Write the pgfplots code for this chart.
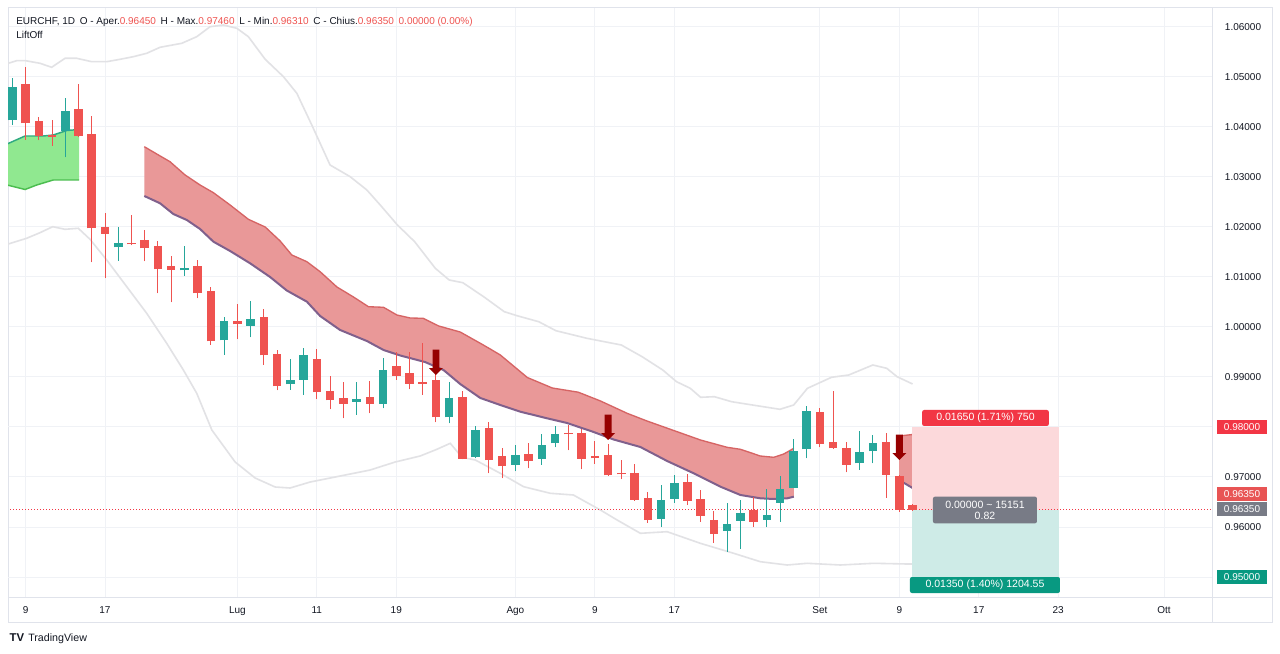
\documentclass[border=0pt]{standalone}
\usepackage{fontspec}
\setmainfont{Liberation Sans}
\usepackage{pgfplots}
\pgfplotsset{compat=1.18}
\usepackage{pgfplotstable}

\definecolor{upc}{RGB}{38,166,154}
\definecolor{dnc}{RGB}{239,83,80}
\definecolor{txt}{RGB}{19,23,34}
\definecolor{gridc}{RGB}{240,242,246}
\definecolor{framec}{RGB}{224,227,235}
\definecolor{bbc}{RGB}{226,226,229}
\definecolor{cloudfill}{RGB}{233,152,152}
\definecolor{cloudtop}{RGB}{214,100,100}
\definecolor{cloudbot}{RGB}{128,96,140}
\definecolor{greenfill}{RGB}{144,232,144}
\definecolor{greentop}{RGB}{48,170,130}
\definecolor{greenbot}{RGB}{76,190,80}
\definecolor{arrowc}{RGB}{150,0,0}
\definecolor{tvred}{RGB}{242,54,69}
\definecolor{tvred2}{RGB}{232,84,84}
\definecolor{tvgray}{RGB}{120,123,134}
\definecolor{tvteal}{RGB}{8,153,129}
\definecolor{pinkbox}{RGB}{252,217,219}
\definecolor{tealbox}{RGB}{206,235,231}
\definecolor{hdrred}{RGB}{239,83,80}

\newcommand{\tvfont}{\fontsize{7.5}{9}\selectfont}
\newcommand{\lblfont}{\fontsize{7.9}{8.25}\selectfont}
\newcommand{\hdrfont}{\fontsize{7.5}{9}\selectfont}

\pgfdeclareplotmark{sellarrow}{%
  \pgfpathmoveto{\pgfqpoint{0pt}{0pt}}%
  \pgfpathlineto{\pgfqpoint{5.2pt}{5.2pt}}%
  \pgfpathlineto{\pgfqpoint{2.6pt}{5.2pt}}%
  \pgfpathlineto{\pgfqpoint{2.6pt}{19pt}}%
  \pgfpathlineto{\pgfqpoint{-2.6pt}{19pt}}%
  \pgfpathlineto{\pgfqpoint{-2.6pt}{5.2pt}}%
  \pgfpathlineto{\pgfqpoint{-5.2pt}{5.2pt}}%
  \pgfpathclose
  \pgfusepath{fill}%
}

\pgfplotstableread{
i o h l c
-1 1.0413 1.0497 1.0404 1.0479
3 1.0391 1.0457 1.0339 1.0431
7 1.0159 1.0199 1.0132 1.0167
12 1.0113 1.0161 1.0102 1.0117
15 0.9973 1.0019 0.9944 1.0011
17 1.0002 1.0051 0.9979 1.0015
20 0.9885 0.9935 0.9874 0.9893
21 0.9894 0.9957 0.9864 0.9943
25 0.9850 0.9889 0.9824 0.9855
27 0.9846 0.9937 0.9837 0.9914
32 0.9819 0.9889 0.9807 0.9857
34 0.9739 0.9802 0.9737 0.9793
37 0.9724 0.9764 0.9711 0.9744
39 0.9736 0.9786 0.9724 0.9764
40 0.9767 0.9801 0.9759 0.9786
48 0.9617 0.9684 0.9601 0.9654
49 0.9657 0.9704 0.9649 0.9689
53 0.9592 0.9649 0.9551 0.9606
54 0.9613 0.9654 0.9557 0.9629
56 0.9615 0.9677 0.9600 0.9625
57 0.9649 0.9702 0.9611 0.9677
58 0.9679 0.9776 0.9678 0.9752
59 0.9755 0.9841 0.9737 0.9831
63 0.9727 0.9792 0.9714 0.9749
64 0.9751 0.9784 0.9727 0.9767
}\upcandles

\pgfplotstableread{
i o h l c
0 1.0486 1.0519 1.0374 1.0407
1 1.0412 1.0419 1.0373 1.0382
2 1.0384 1.0414 1.0362 1.0380
4 1.0436 1.0485 1.0379 1.0381
5 1.0386 1.0421 1.0129 1.0197
6 1.0199 1.0227 1.0097 1.0186
8 1.0168 1.0224 1.0163 1.0165
9 1.0174 1.0193 1.0131 1.0157
10 1.0162 1.0171 1.0067 1.0115
11 1.0121 1.0142 1.0049 1.0114
13 1.0121 1.0134 1.0057 1.0067
14 1.0071 1.0080 0.9964 0.9971
16 1.0011 1.0046 0.9975 1.0005
18 1.0019 1.0035 0.9924 0.9943
19 0.9946 0.9953 0.9873 0.9881
22 0.9935 0.9956 0.9855 0.9869
23 0.9871 0.9902 0.9835 0.9853
24 0.9857 0.9889 0.9817 0.9846
26 0.9859 0.9891 0.9827 0.9846
28 0.9921 0.9949 0.9894 0.9902
29 0.9907 0.9949 0.9875 0.9886
30 0.9889 0.9967 0.9864 0.9886
31 0.9893 0.9905 0.9809 0.9819
33 0.9859 0.9871 0.9735 0.9736
35 0.9797 0.9809 0.9707 0.9733
36 0.9741 0.9757 0.9697 0.9721
38 0.9746 0.9767 0.9717 0.9732
41 0.9787 0.9804 0.9753 0.9785
42 0.9787 0.9795 0.9715 0.9736
43 0.9741 0.9771 0.9726 0.9737
44 0.9744 0.9766 0.9702 0.9703
45 0.9707 0.9734 0.9695 0.9705
46 0.9707 0.9726 0.9653 0.9655
47 0.9659 0.9671 0.9609 0.9614
50 0.9691 0.9706 0.9644 0.9653
51 0.9657 0.9674 0.9611 0.9623
52 0.9614 0.9633 0.9569 0.9587
55 0.9634 0.9661 0.9601 0.9611
60 0.9829 0.9837 0.9759 0.9766
61 0.9769 0.9871 0.9756 0.9757
62 0.9757 0.9769 0.9709 0.9724
65 0.9769 0.9787 0.9659 0.9704
66 0.9702 0.9703 0.9631 0.9635
67 0.9645 0.9647 0.9633 0.9635
}\downcandles

\begin{document}
\begin{tikzpicture}
\useasboundingbox (0,0) rectangle (960pt,489.75pt);
\fill[white] (0,0) rectangle (960pt,489.75pt);
\draw[framec, line width=0.75pt] (6pt,23.25pt) rectangle (954pt,483.75pt);
\draw[framec, line width=0.75pt] (909pt,42pt) -- (954pt,42pt);
\draw[framec, line width=0.75pt] (909pt,23.25pt) -- (909pt,42pt);

\begin{axis}[
  at={(6pt,42pt)}, anchor=south west,
  scale only axis, width=903pt, height=441.75pt,
  xmin=-1.327, xmax=89.62, ymin=0.946, ymax=1.0638,
  axis line style={draw=framec, line width=0.75pt},
  xtick={0,6,16,22,28,37,43,49,60,66,72,78,86},
  xticklabels={9,17,Lug,11,19,Ago,9,17,Set,9,17,23,Ott},
  ytick={0.96,0.97,0.99,1.00,1.01,1.02,1.03,1.04,1.05,1.06},
  extra y ticks={0.95,0.98}, extra y tick labels={},
  extra y tick style={grid=major},
  yticklabel pos=right,
  major tick length=0pt,
  grid=major, grid style={draw=gridc, line width=0.75pt},
  xticklabel style={anchor=base, yshift=-12.4pt, font=\tvfont, text=txt},
  yticklabel style={anchor=center, xshift=23.25pt, font=\tvfont, text=txt,
    /pgf/number format/.cd, fixed, fixed zerofill, precision=5, assume math mode=true},
  clip=true,
]
% Bollinger upper
\addplot[bbc, line width=1.2pt] coordinates {(-1.4,1.0526) (-1.31,1.05274) (-0.67,1.05326) (0,1.05326) (1.09,1.05274) (1.97,1.05194) (2.98,1.05374) (3.86,1.05374) (5.0,1.05306) (6.13,1.05306) (7.14,1.05354) (8.14,1.05406) (9.15,1.05474) (10.16,1.05594) (11.8,1.05674) (12.93,1.05806) (13.94,1.06006) (14.94,1.0604) (15.96,1.05974) (16.83,1.05806) (18.1,1.05354) (19.48,1.05006) (20.49,1.04674) (21.62,1.0404) (23.0,1.0324) (24.52,1.03006) (25.78,1.0274) (26.79,1.0244) (28.09,1.0204) (29.39,1.01706) (30.95,1.01174) (32.0,1.0094) (33.03,1.00886) (34.6,1.00606) (36.16,1.00306) (37.2,1.0022) (38.76,1.00106) (40.06,0.99926) (42.4,0.99774) (45.0,0.9964) (46.57,0.99406) (48.13,0.9914) (49.17,0.98906) (50.21,0.98774) (50.99,0.98594) (52.03,0.98606) (53.33,0.98506) (54.9,0.9844) (56.98,0.98354) (58.02,0.9844) (59.06,0.98774) (60.88,0.98994) (62.18,0.9904) (64.0,0.9924) (65.05,0.99174) (65.83,0.99006) (67.0,0.9886)};
% Bollinger lower
\addplot[bbc, line width=1.2pt] coordinates {(-1.4,1.0165) (-1.31,1.0166) (0.08,1.01774) (1.09,1.01886) (2.05,1.02006) (2.98,1.01954) (3.98,1.01974) (4.87,1.01754) (6.13,1.0134) (7.64,1.00806) (9.15,1.00274) (10.66,0.99674) (11.92,0.9914) (12.93,0.98674) (14.07,0.9794) (15.83,0.973) (17.34,0.9698) (18.85,0.968) (19.98,0.9678) (21.5,0.969) (23.77,0.9702) (26.03,0.9714) (27.92,0.973) (29.81,0.9742) (31.07,0.97554) (32.08,0.97674) (32.96,0.97394) (33.97,0.9734) (35.86,0.97074) (37.62,0.96806) (39.64,0.96674) (41.38,0.9664) (43.42,0.9634) (44.68,0.9614) (46.44,0.95874) (48.46,0.95906) (50.97,0.95674) (53.49,0.95474) (55.5,0.95306) (57.53,0.9524) (59.04,0.95274) (61.55,0.9524) (64.07,0.95274) (66.59,0.9526) (67.0,0.9526)};

% green band
\addplot[fill=greenfill, draw=none] coordinates {(-1.4,1.0366) (-0.04,1.0382) (1.34,1.0382) (2.09,1.0384) (3.11,1.0393) (4.04,1.0395) (4.04,1.0294) (2.09,1.0294) (0.84,1.0284) (-0.04,1.0275) (-1.4,1.0284)} --cycle;
\addplot[greentop, line width=1.1pt] coordinates {(-1.4,1.0366) (-0.04,1.0382) (1.34,1.0382) (2.09,1.0384) (3.11,1.0393) (4.04,1.0395)};
\addplot[greenbot, line width=1.1pt] coordinates {(-1.4,1.0284) (-0.04,1.0275) (0.84,1.0284) (2.09,1.0294) (4.04,1.0294)};

% red band
\addplot[fill=cloudfill, draw=none] coordinates {(8.97,1.03606) (9.91,1.0346) (10.91,1.03306) (12.05,1.0304) (13.18,1.0284) (14.19,1.02686) (15.45,1.0244) (16.83,1.02154) (18.1,1.02) (19.23,1.0172) (20.11,1.0144) (21.25,1.01306) (22.25,1.01106) (23.52,1.008) (24.77,1.006) (25.9,1.00406) (27.04,1.00394) (28.05,1.0024) (29.05,1.0018) (30.04,1.00174) (31.21,1.0002) (32.83,0.999) (34.35,0.99674) (35.1,0.9956) (35.86,0.9944) (37.9,0.9899) (39.79,0.9878) (41.75,0.98696) (43.43,0.9852) (45.44,0.98274) (46.94,0.9812) (48.96,0.9793) (50.98,0.9774) (52.99,0.97594) (54.0,0.97554) (55.5,0.9742) (56.51,0.97394) (57.27,0.9746) (58.03,0.97574)
 (58.03,0.96606) (57.53,0.96574) (56.51,0.9656) (55.5,0.96574) (54.0,0.9664) (52.49,0.96806) (50.47,0.97074) (48.46,0.9732) (46.44,0.976) (44.42,0.9775) (42.91,0.979) (40.9,0.9808) (39.39,0.98174) (37.37,0.98306) (35.86,0.9844) (34.35,0.9858) (32.83,0.9886) (31.57,0.9914) (30.17,0.993) (28.3,0.9943) (27.04,0.9954) (25.78,0.9972) (23.76,0.9994) (22.25,1.0022) (21.25,1.00506) (19.73,1.0073) (18.47,1.01) (16.96,1.01274) (15.45,1.0152) (14.19,1.01706) (13.18,1.0196) (12.18,1.0214) (11.16,1.0226) (10.16,1.02474) (8.97,1.0262)} --cycle;
\addplot[cloudtop, line width=1pt] coordinates {(8.97,1.03606) (9.91,1.0346) (10.91,1.03306) (12.05,1.0304) (13.18,1.0284) (14.19,1.02686) (15.45,1.0244) (16.83,1.02154) (18.1,1.02) (19.23,1.0172) (20.11,1.0144) (21.25,1.01306) (22.25,1.01106) (23.52,1.008) (24.77,1.006) (25.9,1.00406) (27.04,1.00394) (28.05,1.0024) (29.05,1.0018) (30.04,1.00174) (31.21,1.0002) (32.83,0.999) (34.35,0.99674) (35.1,0.9956) (35.86,0.9944) (37.9,0.9899) (39.79,0.9878) (41.75,0.98696) (43.43,0.9852) (45.44,0.98274) (46.94,0.9812) (48.96,0.9793) (50.98,0.9774) (52.99,0.97594) (54.0,0.97554) (55.5,0.9742) (56.51,0.97394) (57.27,0.9746) (58.03,0.97574)};
\addplot[cloudbot, line width=1.5pt] coordinates {(8.97,1.0262) (10.16,1.02474) (11.16,1.0226) (12.18,1.0214) (13.18,1.0196) (14.19,1.01706) (15.45,1.0152) (16.96,1.01274) (18.47,1.01) (19.73,1.0073) (21.25,1.00506) (22.25,1.0022) (23.76,0.9994) (25.78,0.9972) (27.04,0.9954) (28.3,0.9943) (30.17,0.993) (31.57,0.9914) (32.83,0.9886) (34.35,0.9858) (35.86,0.9844) (37.37,0.98306) (39.39,0.98174) (40.9,0.9808) (42.91,0.979) (44.42,0.9775) (46.44,0.976) (48.46,0.9732) (50.47,0.97074) (52.49,0.96806) (54.0,0.9664) (55.5,0.96574) (56.51,0.9656) (57.53,0.96574) (58.03,0.96606)};
% second red piece
\addplot[fill=cloudfill, draw=none] coordinates {(65.98,0.9782) (67.0,0.9785) (67.0,0.9678) (65.98,0.9694)} --cycle;
\addplot[cloudtop, line width=1pt] coordinates {(65.98,0.9782) (67.0,0.9785)};
\addplot[cloudbot, line width=1.5pt] coordinates {(65.98,0.9694) (67.0,0.9678)};

% position tool
\addplot[fill=pinkbox, draw=none] coordinates {(66.96,0.9635) (78.07,0.9635) (78.07,0.98) (66.96,0.98)} --cycle;
\addplot[fill=tealbox, draw=none] coordinates {(66.96,0.95) (78.07,0.95) (78.07,0.9635) (66.96,0.9635)} --cycle;

% last price dotted line
\addplot[tvred, line width=0.6pt, dash pattern=on 0.75pt off 1.5pt] coordinates {(-1.4,0.9635) (89.7,0.9635)};

% candles: wicks
\addplot[draw=none, mark=none, error bars/.cd, y dir=plus, y explicit, error mark=none, error bar style={draw=upc, line width=0.75pt}]
  table[x=i, y=l, y error plus expr=\thisrow{h}-\thisrow{l}] {\upcandles};
\addplot[draw=none, mark=none, error bars/.cd, y dir=plus, y explicit, error mark=none, error bar style={draw=dnc, line width=0.75pt}]
  table[x=i, y=l, y error plus expr=\thisrow{h}-\thisrow{l}] {\downcandles};
% candles: bodies
\addplot[draw=none, mark=none, error bars/.cd, y dir=plus, y explicit, error mark=none, error bar style={draw=upc, line width=6.4pt}]
  table[x=i, y=o, y error plus expr=\thisrow{c}-\thisrow{o}] {\upcandles};
\addplot[draw=none, mark=none, error bars/.cd, y dir=plus, y explicit, error mark=none, error bar style={draw=dnc, line width=6.4pt}]
  table[x=i, y=c, y error plus expr=\thisrow{o}-\thisrow{c}] {\downcandles};

% sell arrows
\addplot[only marks, mark=sellarrow, mark options={fill=arrowc, draw=none}] coordinates {(31,0.9904) (44,0.9774) (66,0.9734)};

% position labels
\node[fill=tvred, text=white, rounded corners=1.5pt, inner sep=0pt, minimum width=95pt, minimum height=12pt, font=\lblfont] at (axis cs:72.51,0.9818) {0.01650 (1.71\%) 750};
\node[fill=tvgray, text=white, rounded corners=1.5pt, inner sep=0pt, minimum width=78pt, minimum height=20pt, align=center, font=\lblfont] at (axis cs:72.47,0.9634) {0.00000 \char"007E{} 15151\\0.82};
\node[fill=tvteal, text=white, rounded corners=1.5pt, inner sep=0pt, minimum width=112.5pt, minimum height=12pt, font=\lblfont] at (axis cs:72.47,0.9484) {0.01350 (1.40\%) 1204.55};
\end{axis}

% price scale tags
\node[fill=tvred, text=white, inner sep=0pt, minimum width=37.5pt, minimum height=10.5pt, font=\tvfont] at (931.5pt,169.5pt) {0.98000};
\node[fill=tvred2, text=white, inner sep=0pt, minimum width=37.5pt, minimum height=10.5pt, font=\tvfont] at (931.5pt,118.9pt) {0.96350};
\node[fill=tvgray, text=white, inner sep=0pt, minimum width=37.5pt, minimum height=10.5pt, font=\tvfont] at (931.5pt,108pt) {0.96350};
\node[fill=tvteal, text=white, inner sep=0pt, minimum width=37.5pt, minimum height=10.5pt, font=\tvfont] at (931.5pt,57pt) {0.95000};

% header
\node[anchor=base west, inner sep=0pt, font=\hdrfont, text=txt] at (12pt,471pt) {EURCHF, 1D\hspace{3.5pt}O - Aper.\textcolor{hdrred}{0.96450}\hspace{3.5pt}H - Max.\textcolor{hdrred}{0.97460}\hspace{3.5pt}L - Min.\textcolor{hdrred}{0.96310}\hspace{3.5pt}C - Chius.\textcolor{hdrred}{0.96350}\hspace{3.5pt}\textcolor{hdrred}{0.00000 (0.00\%)}};
\node[anchor=base west, inner sep=0pt, font=\hdrfont, text=txt] at (12pt,460.5pt) {LiftOff};

% logo
\node[anchor=base west, inner sep=0pt, font=\fontsize{8.5}{9}\selectfont\bfseries, text=txt] at (7pt,9pt) {TV};
\node[anchor=base west, inner sep=0pt, font=\fontsize{8}{9}\selectfont, text=txt] at (21pt,9pt) {TradingView};
\end{tikzpicture}
\end{document}
